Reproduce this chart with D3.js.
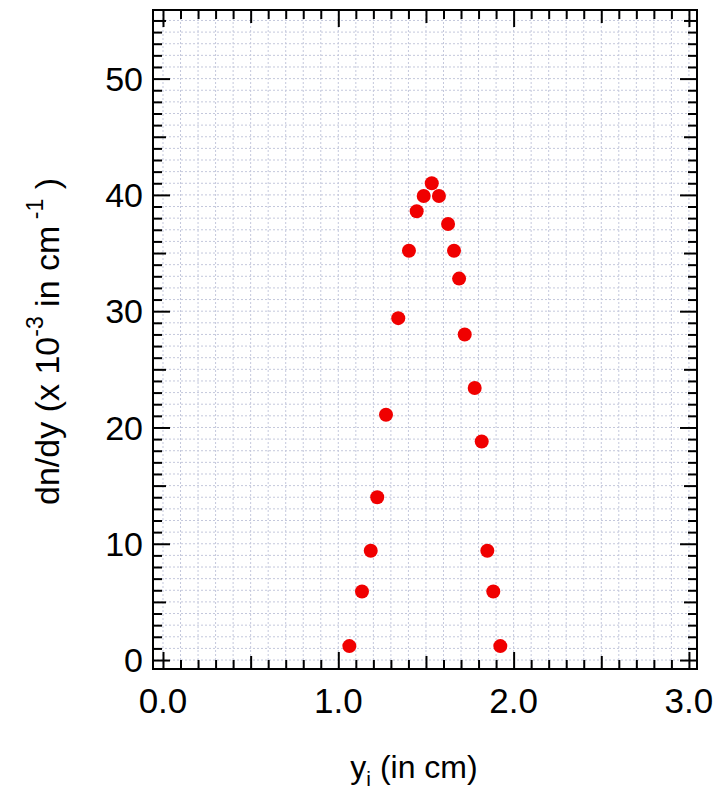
<!DOCTYPE html>
<html lang="en">
<head>
  <meta charset="UTF-8">
  <title>dn/dy vs y</title>
  <style>
    body { margin: 0; background: #fff; }
    svg { display: block; }
    text { font-family: "Liberation Sans", Arial, sans-serif; fill: #000; }
    .grid line { stroke: #c4c8dc; stroke-width: 1; stroke-dasharray: 2,2; }
    .axis path { display: none; }
    .axis line { stroke: #000; stroke-width: 2; }
  </style>
</head>
<body>
  <svg id="chart" width="714" height="793"></svg>

  <script src="https://cdn.jsdelivr.net/npm/d3@7"></script>
  <script>
    // measured points: position y_i (cm) and dn/dy (x 1e-3 per cm)
    const yiValues = [1.063, 1.135, 1.185, 1.222, 1.272, 1.342, 1.403, 1.447, 1.487, 1.533,
                      1.574, 1.626, 1.660, 1.689, 1.721, 1.778, 1.818, 1.850, 1.884, 1.924];
    const dndyValues = [1.2, 5.9, 9.4, 14.0, 21.1, 29.4, 35.2, 38.6, 39.9, 41.0,
                        39.9, 37.5, 35.2, 32.8, 28.0, 23.4, 18.8, 9.4, 5.9, 1.2];
    const xTickLabels = [0, 1, 2, 3];
    const yTickLabels = [0, 10, 20, 30, 40, 50];

    const svg = d3.select("#chart");
    const plotLeft = 153, plotTop = 10, plotRight = 697, plotBottom = 669;

    const x = d3.scaleLinear().domain([-0.057, 3.046]).range([plotLeft, plotRight]);
    const y = d3.scaleLinear().domain([-0.77, 55.9]).range([plotBottom, plotTop]);

    // dotted grid at every minor tick
    const xMinor = d3.range(0, 31).map(d => d / 10);
    const yMinor = d3.range(0, 56);

    const grid = svg.append("g").attr("class", "grid");
    grid.selectAll(".gx").data(xMinor).join("line")
      .attr("x1", d => x(d)).attr("x2", d => x(d))
      .attr("y1", plotTop).attr("y2", plotBottom);
    grid.selectAll(".gy").data(yMinor).join("line")
      .attr("x1", plotLeft).attr("x2", plotRight)
      .attr("y1", d => y(d)).attr("y2", d => y(d));

    // ticks on all four sides, pointing inward
    function tickSet(values, len, xs) {
      const g = svg.append("g").attr("class", "axis");
      if (xs) {
        g.append("g").attr("transform", `translate(0,${plotBottom})`)
          .call(d3.axisBottom(x).tickValues(values).tickSize(-len).tickFormat(""));
        g.append("g").attr("transform", `translate(0,${plotTop})`)
          .call(d3.axisTop(x).tickValues(values).tickSize(-len).tickFormat(""));
      } else {
        g.append("g").attr("transform", `translate(${plotLeft},0)`)
          .call(d3.axisLeft(y).tickValues(values).tickSize(-len).tickFormat(""));
        g.append("g").attr("transform", `translate(${plotRight},0)`)
          .call(d3.axisRight(y).tickValues(values).tickSize(-len).tickFormat(""));
      }
    }
    tickSet(xMinor.filter((d, i) => i % 5 !== 0), 9, true);
    tickSet(xMinor.filter((d, i) => i % 5 === 0 && i % 10 !== 0), 13, true);
    tickSet(xTickLabels, 17, true);
    tickSet(yMinor.filter(d => d % 5 !== 0), 9, false);
    tickSet(yMinor.filter(d => d % 5 === 0 && d % 10 !== 0), 13, false);
    tickSet(yTickLabels, 17, false);

    // frame
    svg.append("rect")
      .attr("x", plotLeft).attr("y", plotTop)
      .attr("width", plotRight - plotLeft).attr("height", plotBottom - plotTop)
      .attr("fill", "none").attr("stroke", "#000").attr("stroke-width", 2);

    // tick labels
    svg.selectAll(".xl").data(xTickLabels).join("text")
      .attr("x", d => x(d)).attr("y", 713)
      .attr("text-anchor", "middle").attr("font-size", 35)
      .text(d3.format(".1f"));
    svg.selectAll(".yl").data(yTickLabels).join("text")
      .attr("x", 143).attr("y", d => y(d)).attr("dy", "0.36em")
      .attr("text-anchor", "end").attr("font-size", 34)
      .text(d => d);

    // points
    const points = yiValues.map((v, i) => ({ x: v, y: dndyValues[i] }));
    svg.append("g").selectAll("circle").data(points).join("circle")
      .attr("cx", d => x(d.x)).attr("cy", d => y(d.y))
      .attr("r", 7).attr("fill", "#f00000");

    // axis titles
    const xt = svg.append("text")
      .attr("x", 414).attr("y", 778)
      .attr("text-anchor", "middle").attr("font-size", 32);
    xt.append("tspan").text("y");
    xt.append("tspan").attr("font-size", 21).attr("dy", 8).text("i");
    xt.append("tspan").attr("dy", -8).text(" (in cm)");

    const yt = svg.append("text")
      .attr("transform", `translate(59,${(plotTop + plotBottom) / 2 + 2}) rotate(-90)`)
      .attr("text-anchor", "middle").attr("font-size", 34);
    yt.append("tspan").text("dn/dy (x 10");
    yt.append("tspan").attr("font-size", 23).attr("dy", -16).text("-3");
    yt.append("tspan").attr("dy", 16).text(" in cm");
    yt.append("tspan").attr("font-size", 23).attr("dy", -16).text(" -1");
    yt.append("tspan").attr("dy", 16).text(" )");
  </script>
</body>
</html>
